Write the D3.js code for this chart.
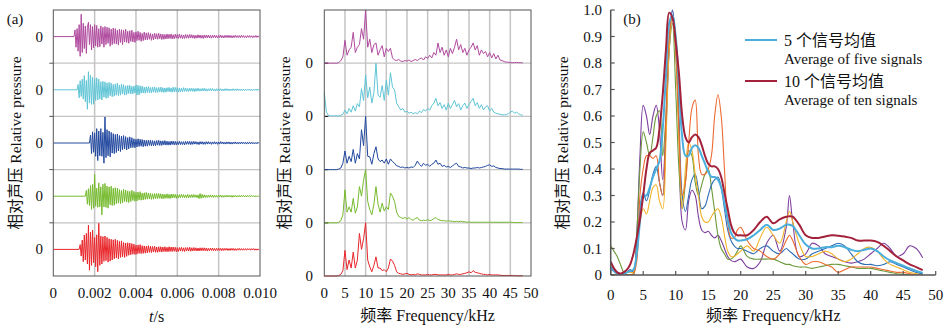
<!DOCTYPE html>
<html><head><meta charset="utf-8">
<script src="https://cdn.jsdelivr.net/npm/d3@7/dist/d3.min.js"></script>
<style>
body{margin:0;background:#fff}
svg{display:block}
svg text{font-family:"Liberation Serif","Times New Roman","DejaVu Serif","Noto Sans CJK SC",serif;fill:#111}
</style>
</head><body>
<svg id="chart" width="945" height="330"></svg>
<script>
// ---------------- DATA ----------------
const timeTickValues = [0, 0.002, 0.004, 0.006, 0.008, 0.010];
const timeTickLabels = ["0", "0.002", "0.004", "0.006", "0.008", "0.010"];
const freqTickValues = [0, 5, 10, 15, 20, 25, 30, 35, 40, 45, 50];
const relTickValues = [0, 0.1, 0.2, 0.3, 0.4, 0.5, 0.6, 0.7, 0.8, 0.9, 1.0];
const relTickLabels = ["0", "0.1", "0.2", "0.3", "0.4", "0.5", "0.6", "0.7", "0.8", "0.9", "1.0"];

const sampleStepS = 0.00005;      // time-signal sample step (s)
const spectrumStepKHz = 0.5;      // spectrum sample step (kHz)

// onset times of the five recorded signals (s), top to bottom
const waveOnsets = [0.00100, 0.00115, 0.00175, 0.00155, 0.00125];

// time signals, relative amplitude in % (top to bottom)
const wavePurple = [
 0,25,-40,30,-55,45,-74,84,-60,50, -45,40,-63,35,54,-30,45,-50,38,-42,
 45,-35,42,-40,30,-38,40,-28,35,-40, 38,-30,35,-25,33,-36,28,-30,32,-26,
 30,-28,25,-32,28,-22,26,-30,24,-20, 28,-22,20,-25,22,-18,24,-20,16,-22,
 18,-15,20,-14,16,-18,12,-15,17,-12, 14,-12,15,-10,12,-14,10,-12,13,-9,
 11,-10,12,-8,10,-11,9,-10,8,-9, 10,-8,9,-7,10,-9,7,-8,9,-6,
 8,-7,9,-6,7,-8,6,-7,8,-6, 7,-6,8,-5,7,-6,6,-7,5,-6,
 7,-5,6,-6,5,-7,6,-5,6,-5, 6,-5,5,-6,5,-4,6,-5,4,-5,
 5,-4,6,-5,4,-5,5,-4,5,-4, 5,-4,4,-5,4,-4,5,-3,4,-4,
 4,-4,5,-3,4,-4,3,-4,4,-3, 4,-3,3,-4,3,-3,4,-3,3,-3];
const waveCyan = [
 0,20,-30,34,-25,40,-35,53,-45,35, -73,68,-50,55,-55,47,-54,42,-40,45,
 -38,40,-35,30,-38,32,-28,30,-32,26, -30,28,-22,25,-26,20,-24,22,-20,25,
 -22,18,-20,22,-16,19,-20,15,-18,16, -14,17,-15,13,-16,14,-12,18,-20,17,
 -19,15,-13,14,-12,10,-13,11,-10,12, -11,9,-12,10,-9,11,-10,8,-10,9,
 -8,10,-9,8,-10,7,-9,8,-7,9, -8,7,-9,10,-8,9,-7,8,-9,7,
 -8,6,-7,8,-6,7,-6,5,-7,6, -5,6,-6,5,-7,5,-5,6,-5,4,
 -5,5,-4,6,-5,4,-5,4,-4,5, -4,5,-4,3,-5,4,-4,4,-3,4,
 -4,3,-4,4,-3,4,-3,3,-4,3, -3,4,-3,3,-3,4,-3,3,-3,3,
 -3,3,-3,2,-3,3,-2,3,-3,2, -3,2,-2,3,-2,3,-2];
const waveBlue = [
 0,30,-40,42,-35,38,-50,54,-66,45, -48,54,-50,40,-76,98,-55,50,-48,45,
 -52,40,-38,35,-40,32,-36,34,-30,28, -32,26,-25,28,-22,24,-26,20,-22,23,
 -18,20,-17,16,-18,14,-15,16,-13,14, -12,13,-14,11,-12,10,-12,11,-9,10,
 -11,9,-10,8,-10,9,-8,10,-9,8, -9,8,-7,9,-8,7,-8,6,-8,7,
 -6,7,-7,6,-7,5,-6,7,-6,5, -6,5,-7,6,-5,6,-5,6,-6,5,
 -5,6,-4,5,-5,4,-6,5,-4,5, -5,4,-5,5,-4,5,-4,4,-5,4,
 -4,5,-4,4,-5,4,-4,5,-3,4, -4,3,-4,4,-3,4,-4,3,-4,3,
 -3,4,-3,3,-4,3,-3,4,-3,3, -3,3,-4,3,-3,3,-3,3,-3,2,
 -3,2,-3,3,-2];
const waveGreen = [
 0,22,-30,28,-35,40,-50,44,-45,82, -38,30,-42,50,-40,35,-70,45,-40,48,
 -42,38,-45,35,-32,38,-35,30,-34,32, -28,30,-26,25,-28,22,-25,26,-20,23,
 -22,20,-24,18,-20,22,-16,18,-19,15, -18,16,-14,17,-15,12,-14,13,-12,14,
 -11,12,-10,11,-12,9,-11,10,-9,10, -9,10,-8,9,-10,8,-9,7,-8,9,
 -8,7,-9,8,-7,8,-6,7,-8,6, -7,6,-6,7,-5,6,-6,5,-6,7,
 -6,5,-5,6,-5,6,-4,5,-6,5, -9,10,-8,7,-6,5,-5,4,-5,4,
 -4,5,-4,4,-5,4,-4,3,-4,4, -3,4,-4,3,-4,3,-3,4,-3,3,
 -3,3,-4,3,-3,3,-3,2,-3,3, -3,3,-2,3,-3,2,-3,3,-2,3,
 -2,3,-2,2,-3,2,-2,2,-2];
const waveRed = [
 0,18,-25,35,-46,54,-40,60,-55,91, -78,65,-60,72,-50,45,-65,55,-84,98,
 -60,50,-55,48,-45,50,-42,45,-48,40, -44,38,-40,36,-35,38,-32,34,-36,30,
 -30,32,-28,26,-30,24,-26,25,-22,24, -20,22,-18,20,-19,16,-18,17,-15,18,
 -16,14,-15,13,-14,12,-13,14,-11,12, -12,11,-10,12,-11,9,-11,10,-9,10,
 -10,9,-8,10,-9,8,-9,10,-8,9, -8,9,-7,8,-9,7,-8,7,-6,8,
 -7,6,-8,7,-6,7,-6,8,-7,6, -6,7,-5,6,-6,5,-6,6,-5,6,
 -5,6,-5,5,-6,4,-5,5,-4,5, -5,4,-5,4,-4,5,-4,4,-5,4,
 -4,4,-3,4,-4,3,-4,4,-3,4, -4,3,-4,3,-3,4,-3,3,-3,3,
 -3,3,-3,3,-2,3,-3,3,-2,3, -3,2,-3,2,-2];

// amplitude spectra (normalised), 0..48 kHz every 0.5 kHz (top to bottom)
const specPurple = [
 0,0,0,0,0,0,0,0.01,0.05,0.12,
 0.43,0.15,0.25,0.3,0.58,0.2,0.3,0.35,0.65,0.45,
 1.0,0.3,0.45,0.2,0.35,0.38,0.15,0.25,0.33,0.12,
 0.28,0.22,0.28,0.1,0.06,0.05,0.07,0.04,0.03,0.05,
 0.04,0.06,0.03,0.05,0.07,0.05,0.08,0.1,0.06,0.12,
 0.09,0.15,0.1,0.2,0.15,0.38,0.2,0.3,0.15,0.25,
 0.12,0.28,0.18,0.3,0.45,0.25,0.35,0.2,0.28,0.15,
 0.25,0.3,0.38,0.25,0.33,0.15,0.25,0.18,0.22,0.12,
 0.2,0.1,0.18,0.08,0.15,0.06,0.05,0.03,0.02,0.02,
 0.01,0.01,0.01,0.015,0.01,0.01,0.005];
const specCyan = [
 0.45,0.08,0.02,0.01,0.01,0.01,0.01,0.01,0.02,0.04,
 0.12,0.05,0.15,0.08,0.2,0.1,0.24,0.18,0.52,0.3,
 0.78,0.35,0.55,0.25,0.45,1.0,0.4,0.36,0.58,0.3,
 0.68,0.4,0.82,0.55,0.5,0.25,0.18,0.12,0.15,0.08,
 0.1,0.06,0.08,0.05,0.07,0.05,0.1,0.07,0.13,0.1,
 0.15,0.12,0.2,0.25,0.34,0.2,0.26,0.15,0.22,0.12,
 0.25,0.15,0.22,0.3,0.18,0.24,0.12,0.2,0.25,0.15,
 0.22,0.28,0.34,0.2,0.26,0.15,0.22,0.12,0.18,0.2,
 0.1,0.15,0.08,0.06,0.05,0.04,0.03,0.03,0.03,0.05,
 0.08,0.1,0.06,0.08,0.05,0.03,0.02];
const specBlue = [
 0,0,0,0,0,0,0,0.01,0.03,0.12,
 0.35,0.12,0.25,0.15,0.38,0.12,0.3,0.2,0.75,0.45,
 1.0,0.25,0.24,0.1,0.3,0.43,0.2,0.15,0.18,0.12,
 0.2,0.1,0.2,0.15,0.12,0.07,0.06,0.04,0.05,0.03,
 0.04,0.03,0.05,0.04,0.08,0.16,0.1,0.06,0.12,0.08,
 0.1,0.06,0.1,0.12,0.18,0.1,0.12,0.06,0.08,0.05,
 0.06,0.04,0.07,0.1,0.12,0.06,0.05,0.03,0.04,0.03,
 0.03,0.02,0.03,0.03,0.04,0.03,0.04,0.05,0.06,0.08,
 0.09,0.06,0.07,0.04,0.03,0.02,0.02,0.01,0.01,0.01,
 0.01,0.01,0.01,0.01,0.01,0.005,0.005];
const specGreen = [
 0,0,0,0,0,0,0,0.01,0.04,0.15,
 0.62,0.2,0.3,0.2,0.46,0.18,0.3,0.68,0.5,0.8,
 1.0,0.4,0.25,0.15,0.35,0.68,0.35,0.2,0.37,0.22,
 0.3,0.25,0.56,0.5,0.4,0.2,0.12,0.1,0.08,0.1,
 0.07,0.1,0.06,0.05,0.08,0.1,0.05,0.04,0.05,0.04,
 0.06,0.04,0.05,0.08,0.1,0.06,0.05,0.04,0.04,0.03,
 0.04,0.03,0.03,0.02,0.03,0.02,0.03,0.02,0.02,0.01,
 0.015,0.01,0.01,0.01,0.01,0.01,0.01,0.01,0.01,0.01,
 0.01,0.01,0.01,0.01,0.01,0.01,0.01,0.01,0.01,0.01,
 0.01,0.01,0.005,0.005,0.005,0.005,0.005];
const specRed = [
 0,0,0,0,0,0,0,0.01,0.03,0.1,
 0.48,0.12,0.3,0.15,0.45,0.15,0.3,0.8,0.5,0.7,
 1.0,0.3,0.17,0.08,0.2,0.36,0.15,0.15,0.1,0.12,
 0.08,0.15,0.32,0.28,0.2,0.08,0.05,0.04,0.03,0.04,
 0.05,0.03,0.02,0.03,0.02,0.04,0.03,0.02,0.02,0.02,
 0.03,0.02,0.02,0.03,0.03,0.02,0.02,0.02,0.02,0.02,
 0.03,0.02,0.02,0.03,0.04,0.03,0.03,0.04,0.05,0.06,
 0.08,0.06,0.1,0.07,0.06,0.05,0.04,0.03,0.03,0.02,
 0.03,0.02,0.02,0.02,0.02,0.015,0.01,0.01,0.01,0.01,
 0.01,0.01,0.01,0.005,0.005,0.005,0.005];

// panel (b): frequency grid (kHz) and smoothed spectra
const freqB = [0,0.5,1,1.5,2,2.5,3,3.5,4,4.5,5,5.5,6,6.5,7,7.5,8,8.5,9,9.5,
 10,10.5,11,11.5,12,12.5,13,13.5,14,14.5,15,15.5,16,16.5,17,17.5,18,18.5,19,19.5,20,
 21,22,23,24,25,26,27,27.5,28,29,30,31,32,33,34,35,36,37,38,39,40,41,42,43,44,45,46,47,48];
const bPurple = [0.02,0.015,0.01,0.005,0.005,0.01,0.02,0.01,0.15,0.45,
 0.64,0.6,0.53,0.6,0.64,0.55,0.36,0.55,0.88,1.0,
 0.85,0.55,0.2,0.17,0.28,0.32,0.3,0.22,0.17,0.16,
 0.165,0.15,0.14,0.15,0.13,0.1,0.07,0.055,0.05,0.055,0.06,
 0.03,0.025,0.05,0.12,0.15,0.09,0.18,0.3,
 0.2,0.07,0.08,0.12,0.11,0.08,0.07,0.06,0.05,0.045,0.05,0.06,0.08,0.1,0.12,0.1,0.07,0.08,0.11,0.1,0.065];
const bGreen = [0.11,0.09,0.07,0.04,0.01,0,0,0,0.15,0.4,
 0.54,0.5,0.45,0.52,0.6,0.62,0.45,0.6,0.85,0.95,
 0.7,0.4,0.25,0.35,0.47,0.45,0.35,0.3,0.34,0.38,
 0.4,0.33,0.24,0.15,0.1,0.08,0.06,0.06,0.07,0.09,0.11,
 0.07,0.06,0.06,0.06,0.06,0.05,0.04,0.04,
 0.035,0.03,0.03,0.025,0.03,0.035,0.04,0.04,0.035,0.03,0.025,0.025,0.025,0.02,0.015,0.01,0.005,0.003,0,0,0];
const bBlue = [0.03,0.02,0.01,0.005,0.005,0.01,0.02,0.01,0.1,0.25,
 0.31,0.28,0.32,0.38,0.41,0.35,0.3,0.55,0.85,1.0,
 0.88,0.6,0.3,0.24,0.3,0.36,0.38,0.32,0.25,0.26,
 0.3,0.34,0.36,0.37,0.33,0.25,0.17,0.13,0.11,0.1,0.1,
 0.09,0.08,0.1,0.11,0.09,0.08,0.1,0.09,
 0.08,0.06,0.06,0.08,0.09,0.1,0.11,0.12,0.11,0.08,0.05,0.04,0.04,0.035,0.04,0.05,0.04,0.03,0.02,0.01,0.005];
const bGold = [0,0,0,0,0.005,0.01,0.01,0.01,0.08,0.2,
 0.25,0.23,0.28,0.33,0.34,0.28,0.25,0.5,0.85,0.98,
 0.85,0.5,0.25,0.4,0.5,0.47,0.38,0.3,0.22,0.2,
 0.2,0.22,0.24,0.25,0.22,0.15,0.09,0.07,0.07,0.08,0.09,
 0.11,0.09,0.14,0.18,0.15,0.12,0.2,0.24,
 0.2,0.12,0.07,0.07,0.08,0.09,0.08,0.06,0.05,0.06,0.08,0.1,0.105,0.09,0.06,0.04,0.03,0.02,0.01,0.005,0];
const bOrange = [0,0,0,0,0,0,0,0.005,0.05,0.3,
 0.4,0.45,0.45,0.44,0.45,0.35,0.3,0.6,0.9,0.98,
 0.85,0.55,0.3,0.35,0.5,0.63,0.66,0.45,0.38,0.38,
 0.4,0.45,0.6,0.68,0.6,0.4,0.2,0.14,0.14,0.17,0.18,
 0.13,0.1,0.09,0.07,0.06,0.08,0.13,0.15,
 0.13,0.07,0.04,0.05,0.05,0.04,0.03,0.01,0.02,0.03,0.03,0.03,0.03,0.025,0.02,0.015,0.01,0.01,0.005,0,0];
const bAvgFive = [0.03,0.015,0.005,0,0.005,0.01,0.015,0.02,0.08,0.2,
 0.3,0.3,0.33,0.37,0.4,0.43,0.55,0.75,0.95,0.98,
 0.9,0.72,0.52,0.45,0.45,0.48,0.49,0.48,0.45,0.42,
 0.39,0.37,0.37,0.36,0.33,0.27,0.21,0.16,0.14,0.13,0.13,
 0.135,0.15,0.17,0.19,0.17,0.175,0.19,0.19,
 0.185,0.15,0.115,0.1,0.1,0.105,0.105,0.11,0.105,0.095,0.09,0.095,0.1,0.09,0.07,0.055,0.045,0.035,0.025,0.015,0.008];
const bAvgTen = [0.05,0.025,0.01,0.005,0.01,0.02,0.04,0.08,0.14,0.21,
 0.3,0.4,0.46,0.47,0.48,0.55,0.68,0.85,0.99,0.97,
 0.88,0.76,0.6,0.52,0.5,0.52,0.53,0.52,0.49,0.45,
 0.42,0.41,0.41,0.4,0.37,0.31,0.25,0.19,0.16,0.15,0.15,
 0.15,0.17,0.2,0.22,0.195,0.21,0.22,0.222,
 0.22,0.19,0.15,0.14,0.14,0.145,0.15,0.148,0.145,0.14,0.13,0.13,0.13,0.125,0.11,0.09,0.07,0.055,0.04,0.03,0.018];

const legendLabelsCN = ["5 个信号均值", "10 个信号均值"];
const legendLabelsEN = ["Average of five signals", "Average of ten signals"];

// ---------------- STYLE ----------------
const waveColors = ["#b04a9e", "#5fc5d6", "#22489f", "#76bb2e", "#e8262b"];
const bColors = {purple:"#7d3f9e", green:"#6b9a3b", blue:"#2e6db4", gold:"#f2b328", orange:"#ec6a2e", five:"#49aedb", ten:"#a3213b"};
const frameColor = "#555";
const gridColor = "#c4c4c4";

const svg = d3.select("#chart");
const txt = (x, y, s, size, anchor) => svg.append("text").attr("x", x).attr("y", y)
  .attr("font-size", size).attr("text-anchor", anchor || "middle").text(s);
function yTitle(x, y) {
  svg.append("text").attr("transform", `translate(${x},${y}) rotate(-90)`)
    .attr("font-size", 15.5).attr("text-anchor", "middle").attr("dominant-baseline", "central")
    .text("相对声压 Relative pressure");
}

// ---------------- PANEL (a) left: time signals ----------------
const plotTop = 10, plotBottom = 276;
const xT = d3.scaleLinear().domain([0, 0.010]).range([53.3, 260]);
const bands = d3.scaleBand().domain(d3.range(5)).range([plotTop, plotBottom]).paddingInner(0).paddingOuter(0);
const waves = [wavePurple, waveCyan, waveBlue, waveGreen, waveRed];

svg.append("g").selectAll("line").data(timeTickValues.slice(1, -1)).join("line")
  .attr("x1", d => xT(d)).attr("x2", d => xT(d)).attr("y1", plotTop).attr("y2", plotBottom)
  .attr("stroke", gridColor).attr("stroke-width", 1.5);
svg.append("g").selectAll("line").data(d3.range(1, 5)).join("line")
  .attr("x1", xT(0)).attr("x2", xT(0.01)).attr("y1", d => bands(d)).attr("y2", d => bands(d))
  .attr("stroke", gridColor).attr("stroke-width", 1.2);
svg.append("g").selectAll("line").data(d3.range(1, 5)).join("line")
  .attr("x1", xT(0) - 4).attr("x2", xT(0)).attr("y1", d => bands(d)).attr("y2", d => bands(d))
  .attr("stroke", frameColor).attr("stroke-width", 1);

waves.forEach((vals, k) => {
  const yb = d3.scaleLinear().domain([-1, 1]).range([bands(k) + bands.bandwidth(), bands(k)]);
  const pts = [[0, 0]].concat(vals.map((v, i) => [waveOnsets[k] + i * sampleStepS, v / 100]))
    .filter(p => p[0] <= 0.010 + 1e-9);
  svg.append("path").datum(pts)
    .attr("d", d3.line().x(d => xT(d[0])).y(d => yb(d[1])))
    .attr("fill", "none").attr("stroke", waveColors[k]).attr("stroke-width", 1).attr("stroke-linejoin", "round");
  txt(43, yb(0) + 5, "0", 15, "end");
});
svg.append("rect").attr("x", xT(0)).attr("y", plotTop).attr("width", xT(0.01) - xT(0)).attr("height", plotBottom - plotTop)
  .attr("fill", "none").attr("stroke", frameColor).attr("stroke-width", 1);
timeTickValues.forEach((v, i) => txt(xT(v), 298, timeTickLabels[i], 15));
const tTitle = svg.append("text").attr("x", xT(0.005)).attr("y", 322)
  .attr("font-size", 16).attr("text-anchor", "middle");
tTitle.append("tspan").attr("font-style", "italic").text("t");
tTitle.append("tspan").text("/s");
txt(15, 24, "(a)", 15, "middle");
yTitle(15, 143);

// ---------------- PANEL (a) right: spectra ----------------
const xF = d3.scaleLinear().domain([0, 50]).range([324.3, 531]);
const specs = [specPurple, specCyan, specBlue, specGreen, specRed];
svg.append("g").selectAll("line").data(freqTickValues.slice(1, -1)).join("line")
  .attr("x1", d => xF(d)).attr("x2", d => xF(d)).attr("y1", plotTop).attr("y2", plotBottom)
  .attr("stroke", gridColor).attr("stroke-width", 1.5);
svg.append("g").selectAll("line").data(d3.range(1, 5)).join("line")
  .attr("x1", xF(0)).attr("x2", xF(50)).attr("y1", d => bands(d)).attr("y2", d => bands(d))
  .attr("stroke", gridColor).attr("stroke-width", 1.2);
svg.append("g").selectAll("line").data(d3.range(1, 5)).join("line")
  .attr("x1", xF(0)).attr("x2", xF(0) + 4).attr("y1", d => bands(d)).attr("y2", d => bands(d))
  .attr("stroke", "#222").attr("stroke-width", 1.2);
specs.forEach((vals, k) => {
  const yb = d3.scaleLinear().domain([0, 1]).range([bands(k) + bands.bandwidth(), bands(k)]);
  svg.append("path").datum(vals.map((v, i) => [i * spectrumStepKHz, v]))
    .attr("d", d3.line().x(d => xF(d[0])).y(d => yb(d[1])))
    .attr("fill", "none").attr("stroke", waveColors[k]).attr("stroke-width", 1).attr("stroke-linejoin", "round");
  txt(313, yb(0) + 5, "0", 15, "end");
});
svg.append("rect").attr("x", xF(0)).attr("y", plotTop).attr("width", xF(50) - xF(0)).attr("height", plotBottom - plotTop)
  .attr("fill", "none").attr("stroke", frameColor).attr("stroke-width", 1);
freqTickValues.forEach(v => txt(xF(v), 298, String(v), 15));
txt(xF(25), 321, "频率 Frequency/kHz", 16);
yTitle(284, 143);

// ---------------- PANEL (b) ----------------
const xB = d3.scaleLinear().domain([0, 50]).range([610.7, 935.7]);
const yB = d3.scaleLinear().domain([0, 1]).range([275, 10]);
svg.append("defs").append("clipPath").attr("id", "clipB").append("rect")
  .attr("x", xB(0)).attr("y", 0).attr("width", xB(50) - xB(0)).attr("height", yB(0));
const gB = svg.append("g").attr("clip-path", "url(#clipB)");
const lineB = d3.line().x(d => xB(d[0])).y(d => yB(d[1])).curve(d3.curveCatmullRom.alpha(0.5));
const bSeries = [
  [bPurple, bColors.purple, 1.1], [bGreen, bColors.green, 1.1], [bBlue, bColors.blue, 1.1],
  [bGold, bColors.gold, 1.1], [bOrange, bColors.orange, 1.1],
  [bAvgFive, bColors.five, 2], [bAvgTen, bColors.ten, 2]];
bSeries.forEach(([vals, col, w]) => {
  gB.append("path").datum(vals.map((v, i) => [freqB[i], v]))
    .attr("d", lineB).attr("fill", "none").attr("stroke", col).attr("stroke-width", w);
});
svg.append("line").attr("x1", xB(0)).attr("x2", xB(0)).attr("y1", yB(1)).attr("y2", yB(0))
  .attr("stroke", frameColor).attr("stroke-width", 1.5);
svg.append("line").attr("x1", xB(0)).attr("x2", xB(50)).attr("y1", yB(0)).attr("y2", yB(0))
  .attr("stroke", frameColor).attr("stroke-width", 1.5);
svg.append("g").selectAll("line").data(relTickValues).join("line")
  .attr("x1", xB(0)).attr("x2", xB(0) + 4).attr("y1", d => yB(d)).attr("y2", d => yB(d))
  .attr("stroke", frameColor).attr("stroke-width", 1.2);
svg.append("g").selectAll("line").data(freqTickValues).join("line")
  .attr("x1", d => xB(d)).attr("x2", d => xB(d)).attr("y1", yB(0)).attr("y2", yB(0) - 4)
  .attr("stroke", frameColor).attr("stroke-width", 1.2);
relTickValues.forEach((v, i) => txt(602, yB(v) + 5, relTickLabels[i], 15, "end"));
freqTickValues.forEach(v => txt(xB(v), 300, String(v), 15));
txt(xB(25), 321, "频率 Frequency/kHz", 16);
yTitle(562, 143);
txt(632, 24, "(b)", 15);

[bColors.five, bColors.ten].forEach((col, i) => {
  const y0 = 40 + i * 41;
  svg.append("line").attr("x1", 745).attr("x2", 777).attr("y1", y0).attr("y2", y0)
    .attr("stroke", col).attr("stroke-width", 2);
  txt(784, y0 + 6, legendLabelsCN[i], 16, "start");
  txt(784, y0 + 24, legendLabelsEN[i], 15, "start");
});
</script>
</body></html>
